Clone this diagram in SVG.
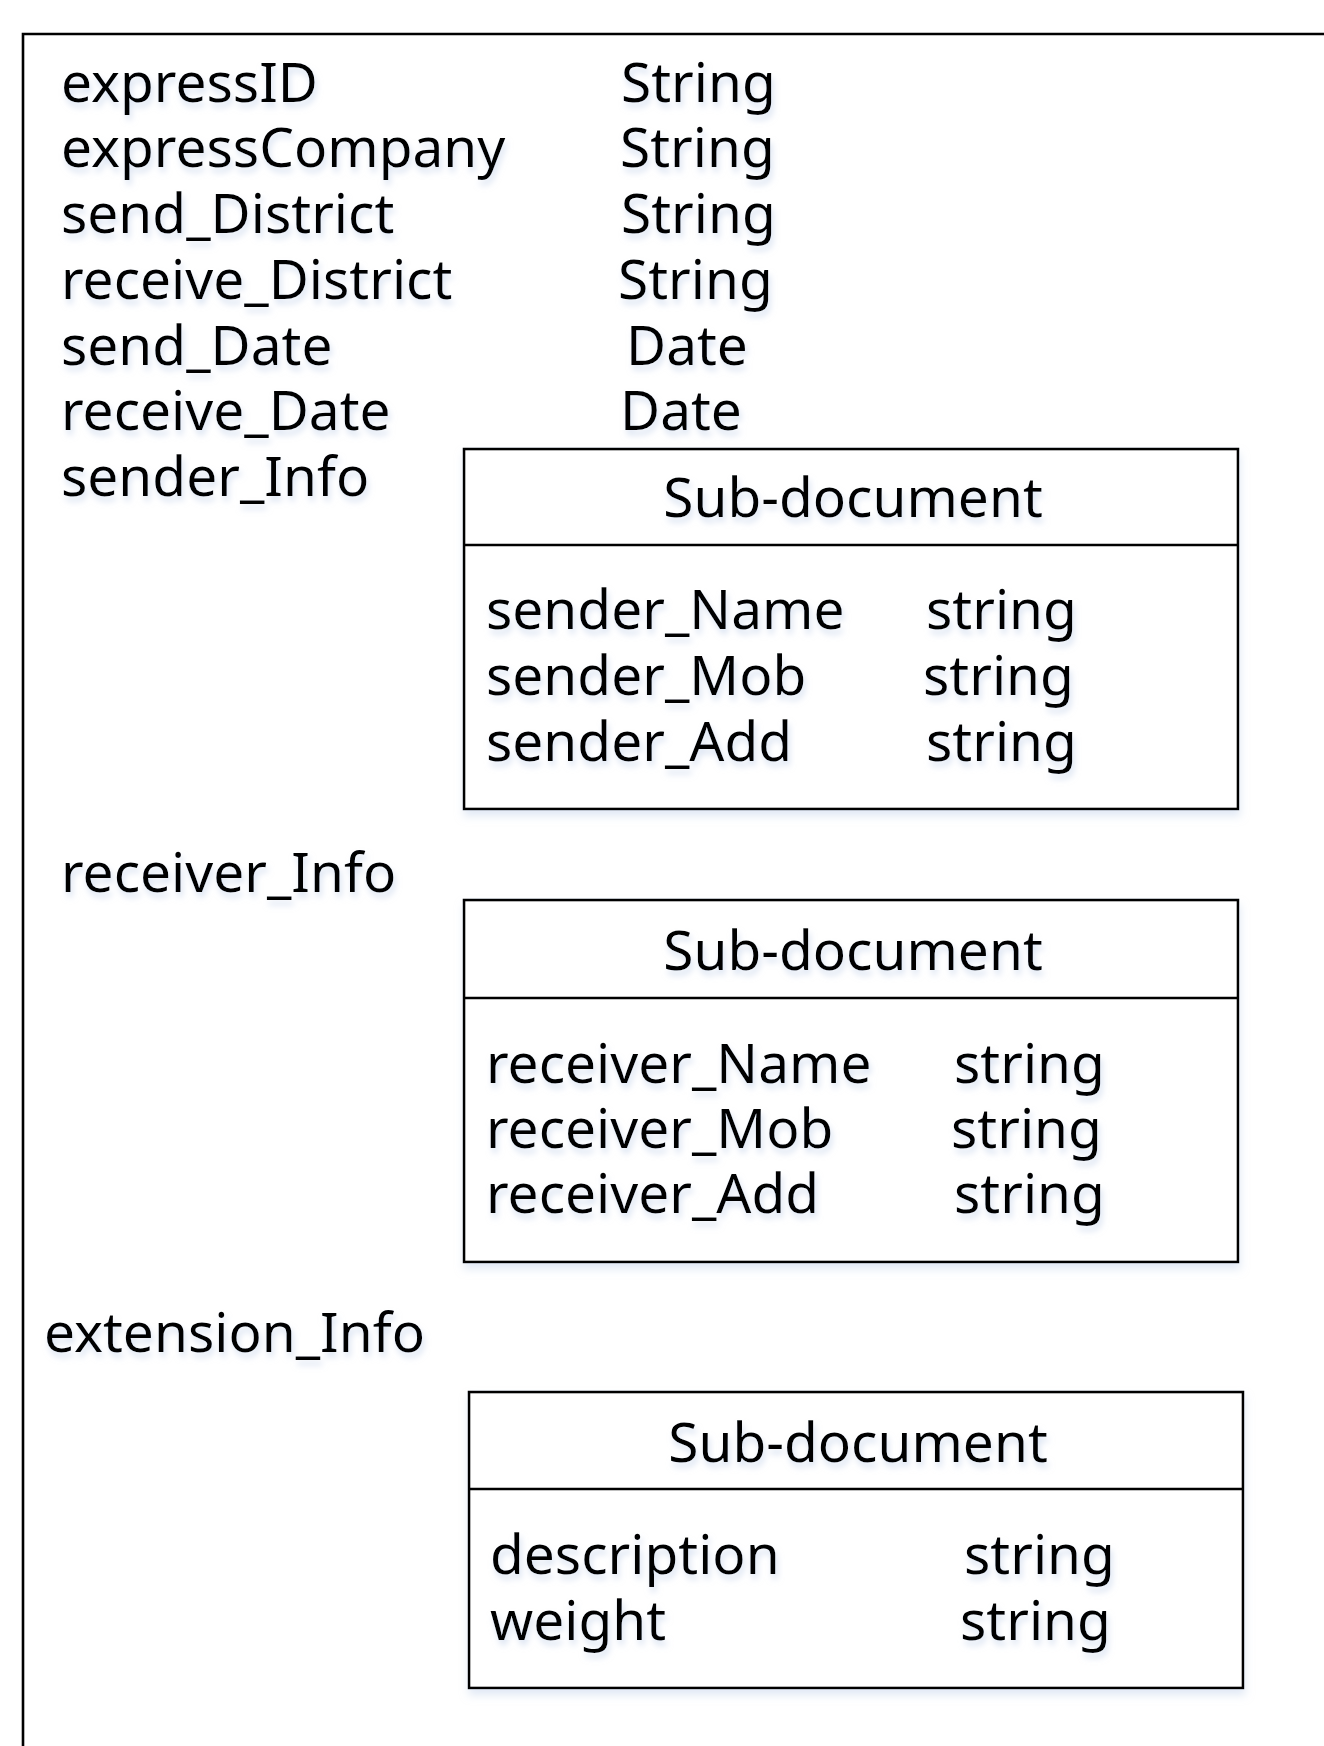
<svg xmlns="http://www.w3.org/2000/svg" width="1324" height="1746" viewBox="0 0 1324 1746">
<style>
text{font-family:"Noto Sans","Open Sans","DejaVu Sans",sans-serif;font-size:55px;fill:#000;filter:url(#sh)}
.h{text-anchor:middle}
.box{fill:#fff;stroke:#000;stroke-width:2.6;filter:url(#bsh)}
.ln{fill:none;stroke:#000;stroke-width:2.6}
</style>
<defs>
<filter id="sh" x="-10%" y="-30%" width="120%" height="170%">
<feDropShadow dx="2" dy="5" stdDeviation="3" flood-color="#b9cbe6" flood-opacity="0.55"/>
</filter>
<filter id="bsh" x="-5%" y="-5%" width="110%" height="115%">
<feDropShadow dx="1" dy="6" stdDeviation="4" flood-color="#c4d4ec" flood-opacity="0.5"/>
</filter>
</defs>
<rect width="1324" height="1746" fill="#fff"/>
<g id="main">
<path class="ln" d="M23,1750 V34 H1330"/>
<text x="61" y="102">expressID</text><text x="621" y="102">String</text>
<text x="61" y="167">expressCompany</text><text x="620" y="167">String</text>
<text x="61" y="233">send_District</text><text x="621" y="233">String</text>
<text x="61" y="299">receive_District</text><text x="618" y="299">String</text>
<text x="61" y="365">send_Date</text><text x="626" y="365">Date</text>
<text x="61" y="430">receive_Date</text><text x="620" y="430">Date</text>
<text x="61" y="496">sender_Info</text>
<text x="61" y="892">receiver_Info</text>
<text x="44" y="1352">extension_Info</text>
</g>
<g id="sender">
<rect class="box" x="464" y="449" width="774" height="360"/>
<path class="ln" d="M464,545 H1238"/>
<text class="h" x="853" y="517">Sub-document</text>
<text x="486" y="629">sender_Name</text><text x="926" y="629">string</text>
<text x="486" y="695">sender_Mob</text><text x="923" y="695">string</text>
<text x="486" y="761">sender_Add</text><text x="926" y="761">string</text>
</g>
<g id="receiver">
<rect class="box" x="464" y="900" width="774" height="362"/>
<path class="ln" d="M464,998 H1238"/>
<text class="h" x="853" y="970">Sub-document</text>
<text x="486" y="1083">receiver_Name</text><text x="954" y="1083">string</text>
<text x="486" y="1148">receiver_Mob</text><text x="951" y="1148">string</text>
<text x="486" y="1213">receiver_Add</text><text x="954" y="1213">string</text>
</g>
<g id="extension">
<rect class="box" x="469" y="1392" width="774" height="296"/>
<path class="ln" d="M469,1489 H1243"/>
<text class="h" x="858" y="1462">Sub-document</text>
<text x="490" y="1574">description</text><text x="964" y="1574">string</text>
<text x="490" y="1640">weight</text><text x="960" y="1640">string</text>
</g>
<g id="connectors"></g>
</svg>
